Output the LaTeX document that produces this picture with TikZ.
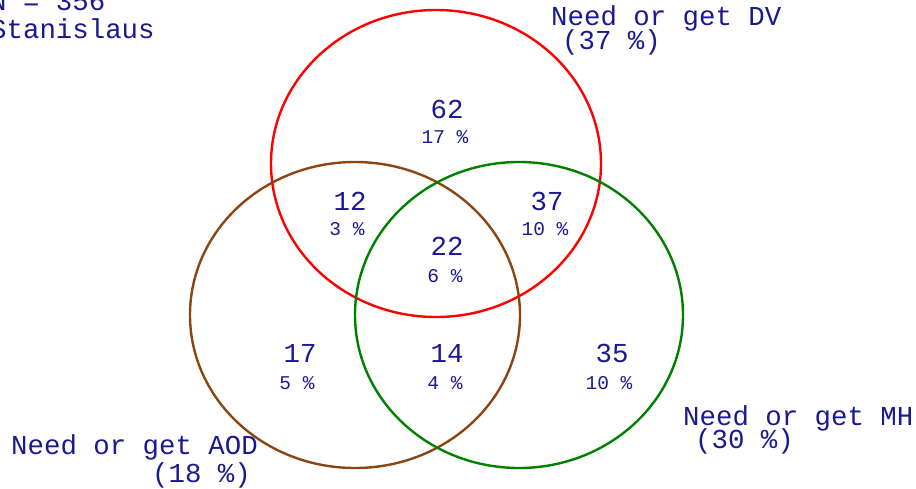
\documentclass[tikz,border=0pt]{standalone}
\usepackage{fontspec}
\setmonofont{Liberation Mono}
\definecolor{txt}{RGB}{25,25,145}
\definecolor{dvred}{RGB}{255,0,0}
\definecolor{aodbrown}{RGB}{139,69,19}
\definecolor{mhgreen}{RGB}{0,128,0}
\tikzset{
  setring/.style={line width=2.4pt},
  lbl/.style={inner sep=0pt, anchor=base west, text=txt, font=\ttfamily\fontsize{27.4}{27.4}\selectfont},
  bignum/.style={inner sep=0pt, anchor=base, text=txt, font=\ttfamily\fontsize{27.4}{27.4}\selectfont},
  pct/.style={inner sep=0pt, anchor=base, text=txt, font=\ttfamily\fontsize{19.5}{19.5}\selectfont},
}
\begin{document}
\begin{tikzpicture}[x=1pt,y=-1pt]
\useasboundingbox (0,0) rectangle (916,488);
% circles
\draw[setring, dvred] (436,163.5) ellipse [x radius=165, y radius=153.5];
\draw[setring, aodbrown] (355,315) ellipse [x radius=165, y radius=153];
\draw[setring, mhgreen] (519,315) ellipse [x radius=164, y radius=153];
% header
\node[lbl] (n) at (-10,10) {N = 356};
\node[lbl] (stan) at (-10,38) {Stanislaus};
% set labels
\node[lbl] (dv) at (551,25) {Need or get DV};
\node[lbl] (dvp) at (562,49) {(37 \%)};
\node[lbl] (mh) at (683,425) {Need or get MH};
\node[lbl] (mhp) at (695,448) {(30 \%)};
\node[lbl] (aod) at (11,454) {Need or get AOD};
\node[lbl] (aodp) at (152,482) {(18 \%)};
% region counts
\node[bignum] (c62) at (447,118) {62};
\node[pct] (p62) at (445,143) {17 \%};
\node[bignum] (c12) at (350,210) {12};
\node[pct] (p12) at (347,235) {3 \%};
\node[bignum] (c37) at (547,210) {37};
\node[pct] (p37) at (545,235) {10 \%};
\node[bignum] (c22) at (447,255) {22};
\node[pct] (p22) at (445,282) {6 \%};
\node[bignum] (c17) at (300,362) {17};
\node[pct] (p17) at (297,389) {5 \%};
\node[bignum] (c14) at (447,362) {14};
\node[pct] (p14) at (445,389) {4 \%};
\node[bignum] (c35) at (612,362) {35};
\node[pct] (p35) at (609,389) {10 \%};
\end{tikzpicture}
\end{document}
